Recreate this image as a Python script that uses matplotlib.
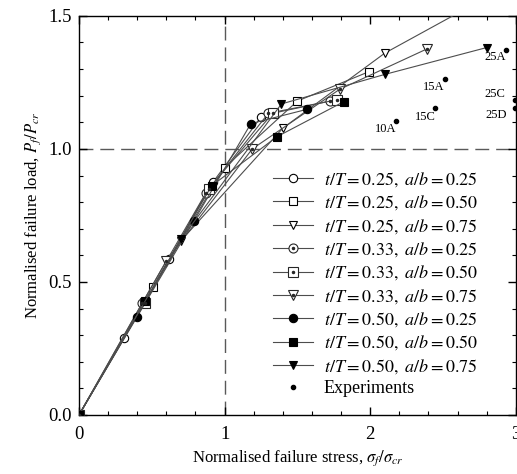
import matplotlib
matplotlib.use("Agg")
import matplotlib.pyplot as plt
from matplotlib.lines import Line2D

plt.rcParams["font.family"] = ["Liberation Serif", "DejaVu Serif"]
plt.rcParams["mathtext.fontset"] = "stix"

# numerical results: (sigma_f/sigma_cr, P_f/P_cr) per case
x_025_025 = [0.0, 0.31, 0.62, 0.92, 1.25]
y_025_025 = [0.0, 0.29, 0.585, 0.875, 1.12]
x_025_050 = [0.0, 0.506, 1.0, 1.50, 1.99]
y_025_050 = [0.0, 0.48, 0.93, 1.18, 1.29]
x_025_075 = [0.0, 0.70, 1.40, 2.10, 2.90]
y_025_075 = [0.0, 0.655, 1.078, 1.36, 1.60]
x_033_025 = [0.0, 0.433, 0.873, 1.30, 1.727]
y_033_025 = [0.0, 0.42, 0.836, 1.134, 1.18]
x_033_050 = [0.0, 0.45, 0.89, 1.33, 1.77]
y_033_050 = [0.0, 0.42, 0.85, 1.134, 1.185]
x_033_075 = [0.0, 0.60, 1.19, 1.79, 2.39]
y_033_075 = [0.0, 0.58, 1.0, 1.224, 1.376]
x_050_025 = [0.0, 0.40, 0.79, 1.18, 1.567]
y_050_025 = [0.0, 0.37, 0.73, 1.095, 1.149]
x_050_050 = [0.0, 0.456, 0.91, 1.36, 1.82]
y_050_050 = [0.0, 0.43, 0.861, 1.046, 1.178]
x_050_075 = [0.0, 0.70, 1.39, 2.10, 2.80]
y_050_075 = [0.0, 0.66, 1.169, 1.28, 1.381]

exp_names = ["10A", "15C", "15A", "25A", "25C", "25D"]
exp_x = [2.18, 2.445, 2.513, 2.934, 2.995, 2.995]
exp_y = [1.105, 1.153, 1.263, 1.372, 1.184, 1.153]
exp_label_xy = [(2.103, 1.075), (2.377, 1.120), (2.433, 1.233),
                (2.857, 1.346), (2.855, 1.207), (2.864, 1.128)]

series = [
    (x_025_025, y_025_025, "o", "white", r"$t/T = 0.25,\ a/b = 0.25$"),
    (x_025_050, y_025_050, "s", "white", r"$t/T = 0.25,\ a/b = 0.50$"),
    (x_025_075, y_025_075, "v", "white", r"$t/T = 0.25,\ a/b = 0.75$"),
    (x_033_025, y_033_025, "o", "dot", r"$t/T = 0.33,\ a/b = 0.25$"),
    (x_033_050, y_033_050, "s", "dot", r"$t/T = 0.33,\ a/b = 0.50$"),
    (x_033_075, y_033_075, "v", "dot", r"$t/T = 0.33,\ a/b = 0.75$"),
    (x_050_025, y_050_025, "o", "black", r"$t/T = 0.50,\ a/b = 0.25$"),
    (x_050_050, y_050_050, "s", "black", r"$t/T = 0.50,\ a/b = 0.50$"),
    (x_050_075, y_050_075, "v", "black", r"$t/T = 0.50,\ a/b = 0.75$"),
]

fig = plt.figure(figsize=(5.17, 4.74), dpi=100)
ax = fig.add_axes([0.1528, 0.1245, 0.845, 0.842])

ax.axvline(1.0, color="0.35", lw=1.0, ls=(0, (10, 5)), zorder=1)
ax.axhline(1.0, color="0.35", lw=1.0, ls=(0, (10, 5)), zorder=1)

handles = []
for xs, ys, m, fill, lab in series:
    if fill == "dot":
        h, = ax.plot(xs, ys, "-", color="0.3", lw=0.8, marker=m, ms=6.5,
                     mfc="white", mec="0.15", mew=0.8, label=lab, zorder=3)
        ax.plot(xs, ys, ls="none", marker=".", ms=3, color="0.15", zorder=4)
        handles.append((h, m))
    else:
        mfc = "white" if fill == "white" else "black"
        h, = ax.plot(xs, ys, "-", color="0.3", lw=0.8, marker=m, ms=6,
                     mfc=mfc, mec="black", mew=0.8, label=lab, zorder=3)
        handles.append((h, None))

hexp, = ax.plot(exp_x, exp_y, ls="none", marker="o", ms=3, color="black",
                label="Experiments", zorder=3)
for name, (lx, ly) in zip(exp_names, exp_label_xy):
    ax.text(lx, ly, name, fontsize=9, ha="center", va="center")

ax.set_xlim(0, 3)
ax.set_ylim(0, 1.5)
ax.set_xticks([0, 1, 2, 3])
ax.set_yticks([0.0, 0.5, 1.0, 1.5])
ax.set_yticklabels(["0.0", "0.5", "1.0", "1.5"])
ax.set_xticks([i * 0.2 for i in range(16)], minor=True)
ax.set_yticks([i * 0.1 for i in range(16)], minor=True)
ax.tick_params(which="both", direction="in", top=True, right=True, labelsize=13.5)
ax.tick_params(which="major", length=6, width=1)
ax.tick_params(which="minor", length=3, width=0.8)
ax.tick_params(axis="x", pad=8)
ax.tick_params(axis="y", pad=5)
for s in ax.spines.values():
    s.set_linewidth(1.0)

ax.set_xlabel(r"Normalised failure stress, $\sigma_f/\sigma_{cr}$", fontsize=12)
ax.set_ylabel(r"Normalised failure load, $P_f/P_{cr}$", fontsize=12)

# legend handles: dotted markers are drawn as overlay tuples
leg_handles = []
for h, m in handles:
    if m is not None:
        dot = Line2D([], [], ls="none", marker=".", ms=3, color="0.15")
        leg_handles.append((h, dot))
    else:
        leg_handles.append(h)
leg_handles.append(hexp)
labels = [s[4] for s in series] + ["Experiments"]
ax.legend(leg_handles, labels, loc="upper left", bbox_to_anchor=(0.428, 0.632),
          frameon=False, fontsize=13, handlelength=2.2, labelspacing=0.25,
          handletextpad=0.6, borderaxespad=0)

fig.savefig("out.png", dpi=100)
